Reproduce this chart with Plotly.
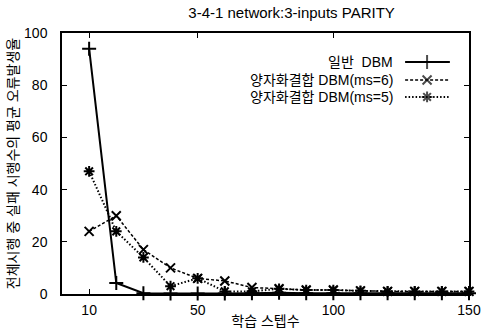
import plotly.graph_objects as go

steps = [10, 20, 30, 40, 50, 60, 70, 80, 90, 100, 110, 120, 130, 140, 150]
dbm_plain = [94, 4.2, 0.3, 0.2, 0.2, 0.2, 0.3, 0.5, 0.3, 0.3, 0.3, 0.3, 0.3, 0.3, 0.3]
dbm_q1 = [24, 30, 17, 10, 6, 5, 2.5, 2, 1.5, 1.5, 1.2, 1, 1, 1, 1]
dbm_q2 = [47, 24, 14, 3, 6, 1, 1, 2, 1.5, 1.5, 1.2, 1, 1, 1, 1]

names = ["일반  DBM", "양자화결합 DBM(ms=6)", "양자화결합 DBM(ms=5)"]
x_ticks = [10, 50, 100, 150]
y_ticks = [0, 20, 40, 60, 80, 100]

title = "3-4-1 network:3-inputs PARITY"
x_title = "학습 스텝수"
y_title = "전체시행 중 실패 시행수의 평균 오류발생율"

FONT = "Liberation Sans, Arial, Noto Sans CJK KR, sans-serif"

styles = [
    dict(dash="solid", width=2, symbol="cross-thin-open", msize=10),
    dict(dash="3px,2px", width=1.5, symbol="x-thin-open", msize=9),
    dict(dash="1.5px,2px", width=2, symbol="asterisk-open", msize=9),
]
series = [dbm_plain, dbm_q1, dbm_q2]

fig = go.Figure()
for vals, st, nm in zip(series, styles, names):
    fig.add_trace(go.Scatter(
        x=steps, y=vals, mode="lines+markers", name=nm, showlegend=False,
        line=dict(color="black", width=st["width"], dash=st["dash"]),
        marker=dict(symbol=st["symbol"], size=st["msize"],
                    line=dict(color="black", width=2), color="black"),
        cliponaxis=False,
    ))

# custom legend (text left, sample right), drawn on an overlay axis
rows = [0.889, 0.820, 0.755]
for (st, nm, ry) in zip(styles, names, rows):
    fig.add_trace(go.Scatter(
        x=[0.843, 0.897, 0.953], y=[ry, ry, ry], xaxis="x2", yaxis="y2",
        mode="lines+markers", showlegend=False, hoverinfo="skip",
        line=dict(color="black", width=st["width"], dash=st["dash"]),
        marker=dict(symbol=st["symbol"], size=[0, st["msize"], 0],
                    line=dict(color="black", width=2), color="black"),
    ))
    fig.add_annotation(x=0.818, y=ry, xref="paper", yref="paper", text=nm,
                       showarrow=False, xanchor="right", yanchor="middle",
                       font=dict(size=14, color="black", family=FONT))

axis_common = dict(
    showgrid=False, zeroline=False, showline=True, linecolor="black",
    linewidth=1.5, mirror="allticks", ticks="inside", ticklen=5,
    tickcolor="black", tickfont=dict(size=14, color="black", family=FONT),
    automargin=False,
)

fig.update_layout(
    width=486, height=331,
    margin=dict(l=62, r=17, t=33, b=37),
    paper_bgcolor="white", plot_bgcolor="white",
    title=dict(text=title, x=0.6, xanchor="center", y=0.962, yanchor="middle",
               font=dict(size=15, color="black", family=FONT), automargin=False),
    xaxis=dict(range=[0, 150], tickvals=x_ticks, ticklabelstandoff=2, **axis_common,
               title=dict(text=x_title, standoff=0,
                          font=dict(size=14, color="black", family=FONT))),
    yaxis=dict(range=[0, 100], tickvals=y_ticks, ticklabelstandoff=10, **axis_common,
               title=dict(text=y_title, standoff=2,
                          font=dict(size=14, color="black", family=FONT))),
    xaxis2=dict(overlaying="x", range=[0, 1], visible=False, fixedrange=True),
    yaxis2=dict(overlaying="y", range=[0, 1], visible=False, fixedrange=True),
    showlegend=False,
)

fig.write_html("out.html",
               config={"displayModeBar": False},
               post_script="document.body.style.margin='0';document.body.style.overflow='hidden';")
